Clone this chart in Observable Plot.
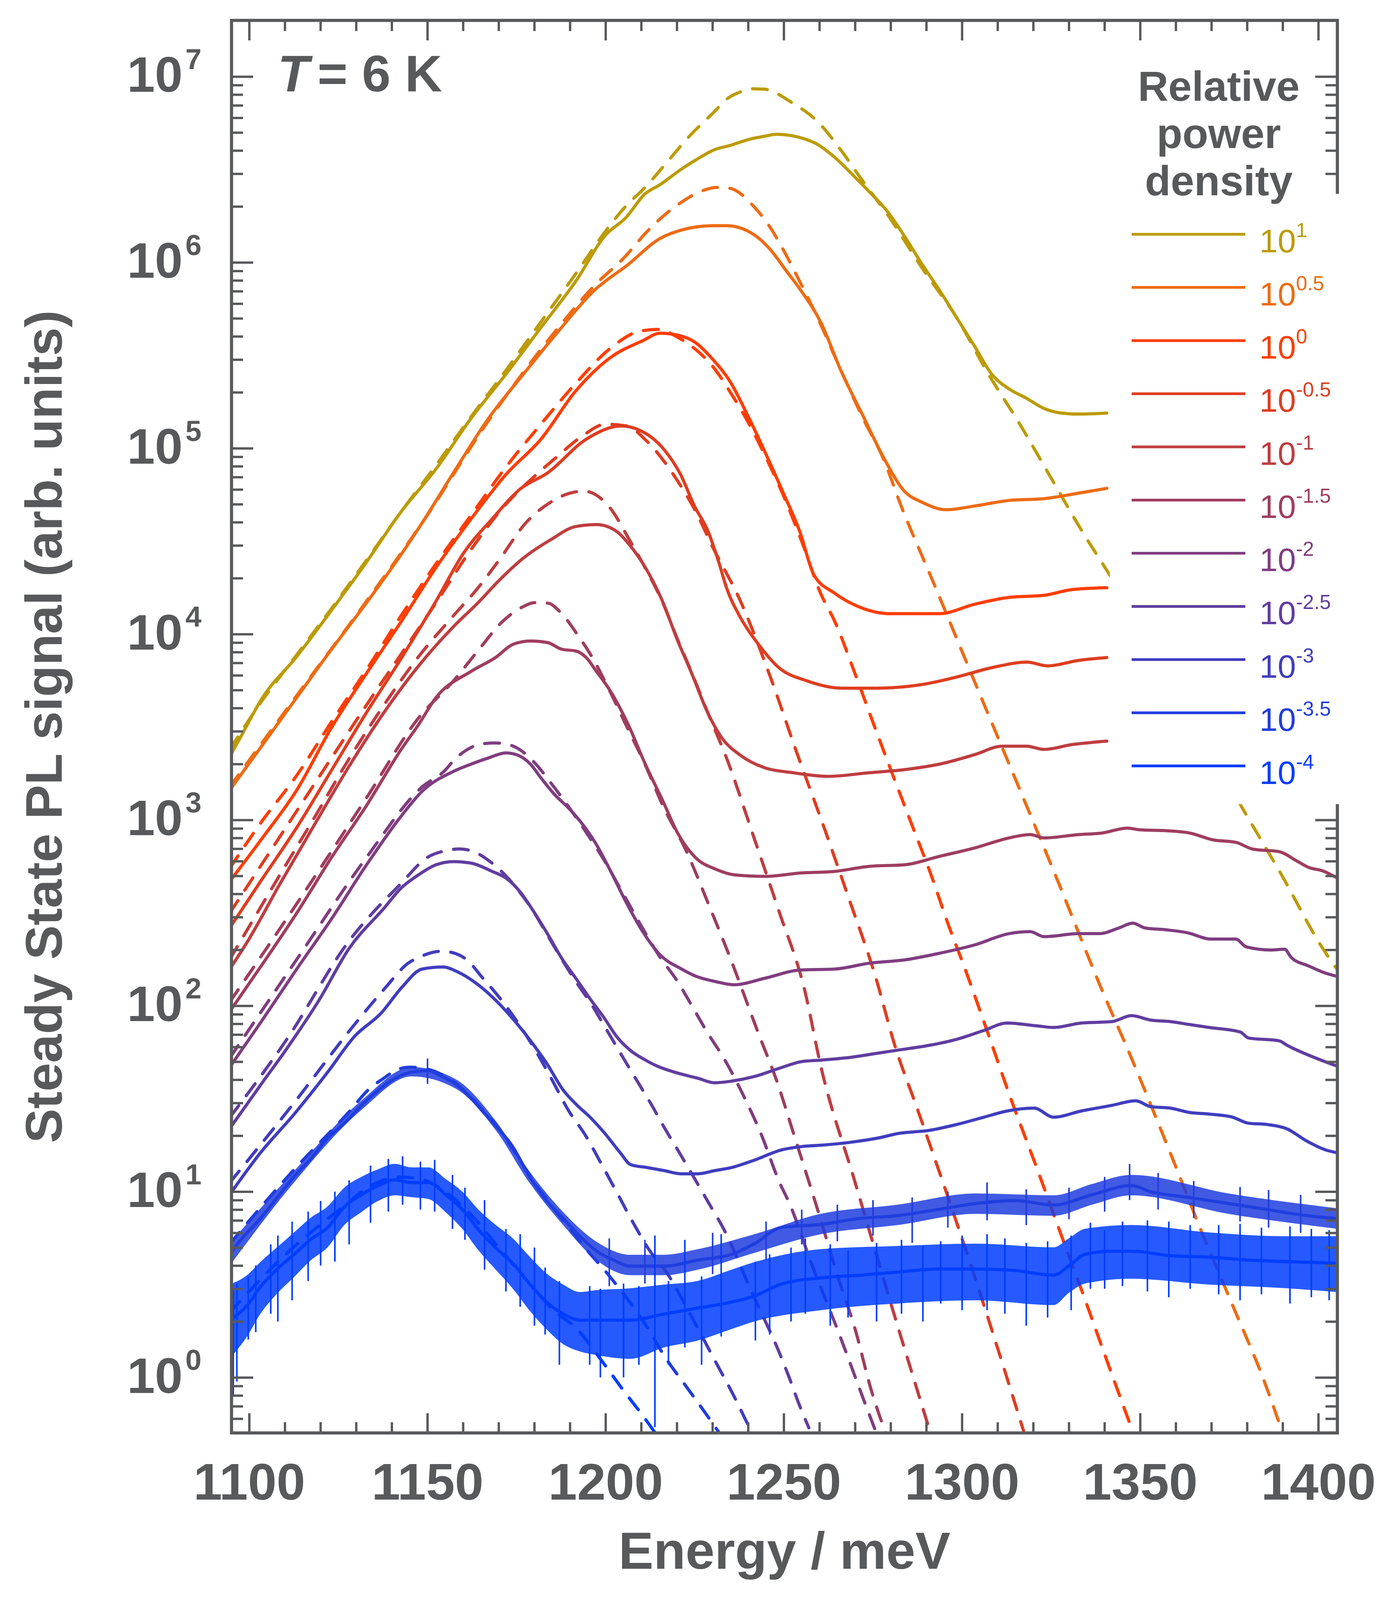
<!DOCTYPE html>
<html><head><meta charset="utf-8">
<script src="https://cdn.jsdelivr.net/npm/d3@7"></script>
<script src="https://cdn.jsdelivr.net/npm/@observablehq/plot@0.6"></script>
<style>
html,body{margin:0;padding:0;background:#fff;overflow:hidden;}
#chart{position:relative;width:3570px;}
#chart svg{display:block;}
</style></head><body><div id="chart"></div>
<script>
// ---------- legend categories ----------
const powerExp = ["1","0.5","0","-0.5","-1","-1.5","-2","-2.5","-3","-3.5","-4"];
const colors = ["#bc9b06","#ee6b14","#ff3d00","#df3d20","#bf3d40","#9f3d60","#803d80","#603da0","#403dbf","#203ddf","#003dff"];

// ---------- measured spectra [Energy meV, PL signal] ----------
const m1 = [[1094.5,2200],[1098,2900],[1103.5,4500],[1113.3,7590],[1123.1,13500],[1132.9,24500],[1142.6,45700],[1152.4,77600],[1162.2,145000],[1172,251000],[1181.8,447000],[1191.6,794000],[1200,1410000],[1205.6,1740000],[1211,2340000],[1215.3,2630000],[1221,3160000],[1225.1,3550000],[1230.8,4070000],[1234.9,4270000],[1240.5,4620000],[1244.7,4790000],[1248,4900000],[1251.5,4840000],[1255,4680000],[1259.4,4330000],[1264,3720000],[1269.2,2980000],[1274,2400000],[1279,1890000],[1283.9,1380000],[1288.8,977000],[1293.7,708000],[1298.6,501000],[1303.5,355000],[1308.3,251000],[1313.2,209000],[1318.1,186000],[1323,164000],[1327.9,155000],[1333,153000],[1340.6,155000]];
const m05 = [[1094.5,1450],[1103.5,2510],[1113.3,4570],[1123.1,8320],[1132.9,14800],[1142.6,26900],[1148.5,39800],[1157.3,74100],[1167.1,145000],[1176.9,251000],[1186.7,427000],[1196.5,700000],[1206.3,977000],[1215.3,1350000],[1222,1510000],[1230,1580000],[1234,1580000],[1239.8,1480000],[1243,1350000],[1246.6,1150000],[1250.5,912000],[1254.4,724000],[1260.3,479000],[1266.2,257000],[1272.1,151000],[1278,89100],[1283.8,58900],[1288.8,51300],[1295.6,46800],[1303.5,49000],[1313.2,52500],[1323,53700],[1332.8,57500],[1340.6,61000]];
const m0 = [[1094.5,468],[1103.5,794],[1113.3,1450],[1123.1,3160],[1132.9,6170],[1142.6,11700],[1152.4,22900],[1162.2,41700],[1172,72400],[1181.8,112000],[1191.6,204000],[1201.4,309000],[1210.4,380000],[1215.3,417000],[1220.2,407000],[1225.1,372000],[1230,302000],[1234.9,229000],[1239.8,151000],[1244.7,95500],[1249.6,58900],[1254.5,35500],[1258.4,20900],[1264.3,16600],[1272.1,13800],[1280,12900],[1293.6,12900],[1303.5,14500],[1313.2,15800],[1323,16200],[1330.9,17400],[1340.6,17800]];
const mm05 = [[1094.5,263],[1103.5,479],[1113.3,912],[1123.1,1860],[1132.9,3800],[1142.6,7410],[1152.4,15100],[1160.2,27500],[1168.1,41700],[1175.9,60300],[1183.8,74100],[1194.5,112000],[1204.3,132000],[1209.2,126000],[1216.1,100000],[1221,72400],[1224.9,49000],[1228.8,35500],[1231.7,24500],[1233.9,17800],[1237.8,12300],[1242.7,8910],[1248.6,6610],[1256.4,5620],[1266.2,5130],[1276,5130],[1288.8,5370],[1298.5,5890],[1308.3,6610],[1318.2,7080],[1324,6760],[1332.8,7240],[1340.6,7500]];
const mm1 = [[1094.5,158],[1099.6,224],[1108.4,447],[1118.1,933],[1128,1950],[1137.8,3800],[1147.5,6760],[1157.3,11000],[1164.2,14800],[1170.1,19500],[1176.9,25700],[1184.7,32400],[1191.6,38000],[1197.5,38900],[1203.3,35500],[1206.3,30900],[1211.1,22900],[1216.1,14800],[1220.1,9330],[1223.9,6310],[1228.8,3720],[1232.7,2750],[1237.7,2240],[1244.7,1910],[1252.5,1800],[1262.3,1720],[1274.1,1800],[1283.9,1870],[1293.6,2000],[1303.5,2250],[1311.3,2500],[1318.1,2500],[1323,2400],[1330.9,2550],[1340.6,2660]];
const mm15 = [[1094.5,93.3],[1103.5,166],[1113.3,316],[1123.1,631],[1132.9,1200],[1142.6,2400],[1147.5,3270],[1152.4,4570],[1162.2,6310],[1169.1,7500],[1174,8830],[1178.9,9200],[1183.7,9020],[1187.7,8300],[1191.6,8130],[1194.5,7500],[1197.4,6310],[1201.3,4950],[1206.3,3270],[1211.1,2000],[1216.1,1260],[1220.2,851],[1225.1,631],[1231,543],[1236,508],[1244.7,498],[1254.5,519],[1264.3,530],[1274.1,564],[1283.9,575],[1293.6,638],[1303.5,708],[1313.2,802],[1319.1,836],[1323,802],[1332.8,836],[1339.1,851],[1346.4,906],[1349.8,887],[1357.2,877],[1364,851],[1370.4,783],[1376.8,759],[1381.6,698],[1389,676],[1393.9,603],[1397.3,556],[1401.2,533],[1405.4,486]];
const mm2 = [[1094.5,46.8],[1103.5,83.2],[1113.3,158],[1123.1,295],[1132.9,575],[1142.6,1050],[1148.5,1430],[1157.3,1830],[1162.2,2000],[1167.1,2160],[1172,2300],[1175,2250],[1178.9,2000],[1181.8,1690],[1185.7,1370],[1189.6,1160],[1193.6,944],[1197.4,738],[1201.4,530],[1205.4,372],[1210.4,251],[1215.3,188],[1221.3,158],[1225.1,145],[1231,135],[1235.9,130],[1244.7,141],[1254.5,156],[1264.3,158],[1274.1,170],[1283.9,177],[1293.6,192],[1303.5,213],[1313.2,245],[1319.1,251],[1323,236],[1332.8,245],[1338.6,245],[1344,263],[1347.9,279],[1351.3,263],[1357.2,257],[1363.1,248],[1369.9,229],[1376.8,229],[1379.7,208],[1386.6,200],[1390.5,202],[1392.4,182],[1397.3,164],[1401.2,152],[1405.4,144]];
const mm25 = [[1094.5,21.9],[1103,37.2],[1110.5,58.9],[1119.5,107],[1128,204],[1137.8,336],[1142.6,431],[1147.5,508],[1152.4,575],[1157.3,598],[1162.2,587],[1168.1,530],[1172,488],[1175.9,413],[1179.8,322],[1183.8,242],[1187.7,180],[1191.6,141],[1195.5,110],[1199.4,87.1],[1203.3,67.6],[1207,57.5],[1211,51.3],[1214.5,47.4],[1219.2,44.1],[1225.9,40.8],[1230.6,38.6],[1235.3,39.4],[1241.7,41.7],[1249.3,46.6],[1254.8,50.1],[1260.3,51.1],[1269,53],[1276.6,55.8],[1282.1,57.9],[1290.8,61.4],[1298.4,66.1],[1306.1,73.8],[1312.6,80.9],[1321.3,78],[1325.7,76.6],[1333.4,80.9],[1342.1,82.4],[1347.5,88.7],[1353,83.9],[1358.4,82.4],[1363.9,79.4],[1369.3,76.6],[1378.1,72.4],[1380.3,67.3],[1389,64.9],[1391.2,61.4],[1396.6,55],[1405.3,47.4]];
const mm3 = [[1094.5,9.66],[1103.1,16.2],[1112.6,26.2],[1122,44.1],[1129.5,68.5],[1137.1,92],[1142.8,126],[1148.5,158],[1154.4,162],[1158.3,153],[1164.2,130],[1169.2,107],[1173.9,85.5],[1178.6,66.1],[1183.4,49.2],[1188.1,35.2],[1191.9,29.3],[1195.6,25.2],[1199.4,21],[1204.1,16.2],[1207,14],[1211.7,13.5],[1216.4,13],[1221.1,12.5],[1225.9,12.5],[1230.6,13],[1235.3,13.5],[1241.7,14.8],[1249.3,16.8],[1254.8,17.5],[1260.3,17.8],[1269,18.5],[1276.6,19.5],[1282.1,20.6],[1290.8,21.4],[1298.4,23],[1306.1,25.2],[1312.6,27.2],[1320.2,28.2],[1325.7,25.2],[1333.4,27.2],[1342.1,29.2],[1348.7,30.9],[1353,28.7],[1358.4,28.2],[1363.9,26.7],[1369.3,26.2],[1375.9,25.2],[1380.3,23.4],[1385.7,23],[1391.2,21.8],[1396.6,18.8],[1402,16.8],[1405.3,16.2]];
const mm35 = [[1094.5,4.61],[1098.4,5.75],[1103.1,7.18],[1107.8,9.31],[1112.6,12.1],[1117.3,15.1],[1122,19.5],[1126.7,23.4],[1131.5,29.2],[1136.2,35.2],[1140.9,40.8],[1145.6,44.1],[1150.3,44.9],[1153.2,42.5],[1157.9,38],[1161.7,32.7],[1165.4,27.2],[1169.2,22.6],[1173.9,17.5],[1178.6,12.1],[1183.4,8.97],[1188.1,7.18],[1192.8,5.75],[1197.5,4.79],[1202.2,4.29],[1207,3.98],[1216.4,3.98],[1225.9,4.29],[1235.3,4.61],[1241.7,5.25],[1249.3,6.43],[1260.3,6.67],[1271.2,7.18],[1282.1,7.45],[1293,8.02],[1303.9,8.65],[1314.8,8.97],[1325.7,8.49],[1336.6,9.66],[1347.5,10.8],[1353,10],[1363.9,9.31],[1374.8,8.65],[1385.7,8.02],[1396.6,7.45],[1405.3,7.18]];
const mm4 = [[1094.5,2.04],[1099.4,2.45],[1103.1,3.08],[1107.8,3.84],[1112.6,4.61],[1117.3,5.55],[1122,6.43],[1126.7,8.32],[1131.5,9.66],[1136.2,10.8],[1140.9,11.6],[1145.6,11.2],[1150.3,11.2],[1155.1,9.66],[1159.8,8.02],[1164.5,6.19],[1169.2,4.97],[1173.9,4.13],[1178.7,3.19],[1183.4,2.55],[1188.1,2.2],[1192.8,2.04],[1197.5,2.04],[1207,2.04],[1216.4,2.2],[1225.9,2.37],[1235.3,2.55],[1241.7,2.75],[1249.3,3.19],[1260.3,3.44],[1271.2,3.56],[1282.1,3.7],[1293,3.84],[1303.9,3.84],[1314.8,3.77],[1325.7,3.56],[1330,4.0],[1334.5,4.61],[1342.1,4.79],[1347.5,4.79],[1358.4,4.53],[1369.3,4.45],[1380.3,4.29],[1391.2,4.21],[1405.3,4.13]];

// noise envelopes of the two weakest spectra [Energy, low, high]
const band35 = [[1094.5,3.98,5.25],[1112.6,11.2,12.9],[1131.5,27.5,30.9],[1145.6,41.7,46.8],[1157.9,35.9,40.3],[1169.2,21.4,24.0],[1178.6,11.2,12.9],[1188.1,6.61,7.76],[1197.5,4.27,5.37],[1207,3.55,4.57],[1216.4,3.55,4.57],[1225.9,3.8,4.9],[1241.7,4.68,5.89],[1260.3,5.89,7.59],[1282.1,6.61,8.51],[1303.9,7.59,9.77],[1325.7,7.41,9.55],[1336.6,8.51,11.0],[1347.5,9.55,12.3],[1374.8,7.59,9.77],[1405.3,6.31,8.13]];
const band4 = [[1094.5,1.26,3.16],[1099.4,1.66,3.55],[1103.1,2.19,4.17],[1107.8,2.82,5.01],[1112.6,3.47,6.03],[1117.3,4.27,7.24],[1122,5.01,8.32],[1126.7,6.61,10.5],[1131.5,7.76,12],[1136.2,8.91,13.2],[1140.9,9.55,14.1],[1145.6,9.33,13.5],[1150.3,9.12,13.5],[1155.1,7.76,11.7],[1159.8,6.31,10],[1164.5,4.79,7.94],[1169.2,3.8,6.61],[1173.9,3.02,5.62],[1178.7,2.29,4.47],[1183.4,1.82,3.63],[1188.1,1.51,3.16],[1192.8,1.38,2.88],[1197.5,1.32,2.95],[1207,1.26,3.02],[1216.4,1.45,3.16],[1225.9,1.58,3.31],[1235.3,1.82,3.8],[1241.7,2,4.17],[1260.3,2.3,4.9],[1282.1,2.5,5.1],[1303.9,2.6,5.25],[1325.7,2.45,5.01],[1330,2.85,5.6],[1334.5,3.2,6.31],[1347.5,3.4,6.61],[1369.3,3.16,6.03],[1391.2,3.02,5.75],[1405.3,2.88,5.75]];
const spikes35 = [[1150,38,52],[1201,3.1,5.6],[1211,3.2,5.5],[1230,3.6,6.0],[1245,4.3,6.9],[1255,5.2,8.0],[1265,5.4,8.5],[1275,5.8,9.0],[1286,5.3,9.3],[1296,6.4,10.0],[1307,7.0,11.2],[1318,6.6,10.3],[1330,7.1,10.5],[1340,7.8,12.0],[1347,9.0,14.1],[1355,8.0,12.6],[1365,7.2,11.4],[1378,6.9,10.6],[1386,6.4,10.2],[1395,6.0,9.6]];
const spikes4 = [[1095.5,0.79,3.0],[1096.5,0.95,3.2],[1099.7,1.6,3.5],[1101.8,1.75,4.0],[1106,2.2,5.2],[1108,2.0,5.8],[1112,2.6,6.9],[1116.5,3.3,7.8],[1120,4.0,8.9],[1124,4.2,10.0],[1128,5.2,11.5],[1134,6.8,13.8],[1139,7.8,15.0],[1143,8.5,15.5],[1148,8.0,14.5],[1152,7.8,14.8],[1157,6.3,12.3],[1160.5,5.5,10.5],[1166,3.8,9.0],[1172,2.9,6.3],[1176,2.4,5.9],[1180,1.9,5.0],[1183,1.7,3.9],[1187,1.17,3.3],[1195.5,1.17,3.1],[1198.5,1.0,3.0],[1205,1.0,3.2],[1209.3,1.17,3.1],[1213.8,0.54,5.8],[1217.6,1.17,3.3],[1222.2,1.45,5.5],[1226.9,1.17,3.5],[1232.4,1.66,5.9],[1242,1.58,4.2],[1246,1.7,4.6],[1252,2.0,5.0],[1256,2.2,5.6],[1263,1.9,5.2],[1268,2.1,4.8],[1276,2.0,5.3],[1283,2.2,5.5],[1289,2.0,5.1],[1294,2.5,5.4],[1300,2.3,5.8],[1307,2.3,5.9],[1312,2.2,5.6],[1318,1.9,5.3],[1324,2.1,5.4],[1330.6,2.3,5.8],[1336,3.0,6.8],[1340,3.0,6.2],[1345,3.1,6.9],[1352,2.9,7.0],[1358,2.7,6.9],[1364,3.0,6.6],[1372,2.8,6.6],[1378,2.6,6.7],[1384,2.8,6.4],[1392,2.5,6.5],[1398,2.7,6.3],[1403,2.6,6.2]];

// ---------- model fits (dashed) ----------
const f1 = [[1094.5,2400],[1103.5,4370],[1113.3,7760],[1123.1,13800],[1132.9,25100],[1142.6,45700],[1152.4,81300],[1162.2,148000],[1172,263000],[1181.8,479000],[1191.6,871000],[1200,1480000],[1205,1950000],[1211.3,2570000],[1217.2,3470000],[1223.5,4790000],[1230.4,6460000],[1234,7590000],[1238,8320000],[1241.5,8610000],[1244.6,8570000],[1248,8130000],[1251.5,7410000],[1259.4,5750000],[1266.2,3980000],[1272.1,2750000],[1279,1820000],[1288.8,933000],[1298.6,501000],[1307.4,251000],[1316.2,135000],[1325,69200],[1333.8,35500],[1342,20000],[1360,5000],[1378.2,1200],[1389.5,513],[1401.2,204],[1406,150]];
const f05 = [[1094.5,1510],[1113.3,4680],[1132.9,15100],[1148.5,39800],[1167.1,141000],[1186.7,447000],[1196.5,741000],[1205.3,1070000],[1212.2,1510000],[1220.1,2040000],[1227.5,2450000],[1231,2540000],[1234.8,2510000],[1241.6,2000000],[1246.5,1510000],[1250.6,1100000],[1254.4,794000],[1260,479000],[1266,263000],[1272,148000],[1278,87100],[1282.9,49000],[1291.7,19500],[1303.4,5620],[1315.2,1620],[1326.9,468],[1338.7,129],[1347.5,52.5],[1358.4,16.2],[1367.1,6.17],[1375.9,2.45],[1384.6,0.977],[1390,0.5]];
const f0 = [[1094.5,550],[1103,955],[1113.3,1740],[1123.1,3390],[1132.9,6460],[1142.6,12600],[1152.4,24000],[1162.2,43700],[1172,79400],[1181.8,135000],[1191.6,224000],[1201.4,347000],[1209.5,427000],[1215,437000],[1220,398000],[1225.4,339000],[1230.5,269000],[1235,200000],[1240,138000],[1245,89100],[1250,55000],[1255,31600],[1260.3,16600],[1264.3,11700],[1270.1,6030],[1275.5,3160],[1280.4,1780],[1285.8,955],[1291.2,513],[1296.1,275],[1301,155],[1306.4,79.4],[1313.7,31.6],[1321.3,12.9],[1326.8,6.61],[1334.5,2.63],[1339.9,1.35],[1347.5,0.537]];
const fm05 = [[1094.5,316],[1113.3,1120],[1132.9,4170],[1152.4,14800],[1162,28200],[1172,50100],[1180,70800],[1186,89100],[1193,115000],[1200,135000],[1206,132000],[1211,112000],[1216,87100],[1220,67600],[1225,46800],[1230,29500],[1237.8,15100],[1246.2,5890],[1253.5,2340],[1260.9,955],[1268.2,380],[1275.5,148],[1281.4,58.9],[1287,29.5],[1302.8,3.85],[1317.3,0.513]];
const fm1 = [[1094.5,178],[1108.4,501],[1118.1,1020],[1128,2140],[1137.8,4170],[1147.5,7590],[1157.3,12600],[1164.2,17800],[1170.1,25100],[1177.6,39800],[1184.5,51300],[1190,57500],[1194,58900],[1198,55000],[1202,45700],[1206,33900],[1211,22900],[1216,14800],[1220,9550],[1224,6310],[1228.8,3720],[1233.9,2160],[1241.7,794],[1248.6,324],[1255.9,120],[1260.3,47.9],[1270,11.2],[1280,2.51],[1291,0.513]];
const fm15 = [[1094.5,105],[1113.3,355],[1132.9,1320],[1147.5,3550],[1157.3,5620],[1164.5,8320],[1171,11700],[1176.9,14100],[1180,14800],[1183.8,14700],[1187.2,13200],[1192,10000],[1196.4,7410],[1201,5010],[1206,3160],[1211,2000],[1216,1200],[1222.7,676],[1229,347],[1234.9,182],[1242.7,72.4],[1248.3,38],[1252.6,20.9],[1259.2,8.32],[1265.2,3.47],[1270,1.82],[1274.4,0.871],[1278.6,0.5]];
const fm2 = [[1094.5,52.5],[1113.3,178],[1132.9,631],[1148.5,1510],[1155,1860],[1157.3,2090],[1161.2,2400],[1165.2,2570],[1169,2600],[1172,2570],[1175,2450],[1180,2040],[1185,1550],[1190,1150],[1195,832],[1200,589],[1205,398],[1210,269],[1215,186],[1220.2,135],[1224.2,100],[1228.6,71.6],[1233.1,52.5],[1239.6,30.2],[1243.4,20.9],[1248.8,11.2],[1251.5,8.71],[1258,3.98],[1265.2,1.78],[1272.8,0.724],[1276,0.5]];
const fm25 = [[1094.5,25.1],[1110.5,66.1],[1128,224],[1142.6,457],[1150,631],[1155,684],[1159,700],[1163,676],[1168,589],[1172,501],[1176,407],[1180,316],[1184,234],[1188,174],[1192,132],[1196,102],[1200,75.9],[1204.3,55],[1208.7,39.8],[1212.8,29.5],[1216.6,21.9],[1220.7,16.2],[1229.2,8.51],[1233.1,6.31],[1241,2.88],[1248.8,1.35],[1251.5,1.0],[1254.2,0.724],[1257,0.537]];
const fm3 = [[1094.5,11.2],[1112.6,30.2],[1129.5,79.4],[1137.8,123],[1144.6,170],[1148.5,186],[1154,197],[1158,191],[1161.5,174],[1165,145],[1170,112],[1175,83.2],[1180,58.9],[1185,39.8],[1189.5,27.5],[1194.4,20],[1198.8,14.1],[1203.3,9.77],[1207.8,6.76],[1212.1,4.9],[1217.3,3.63],[1224,2.14],[1230.7,1.23],[1236,0.794],[1241.1,0.5]];
const fm35 = [[1094.5,5.25],[1112.6,13.2],[1127.5,26.3],[1134,36.3],[1137.6,40.7],[1141.8,45.7],[1145,46.8],[1150,45.7],[1155,41.7],[1160,35.5],[1165,28.2],[1170,21.9],[1175,15.8],[1180,11.2],[1185,8.32],[1190,6.31],[1195,4.79],[1200,3.72],[1205,2.82],[1211,1.95],[1217,1.26],[1222.3,0.912],[1227.2,0.676],[1232,0.5]];
const fm4 = [[1094.5,2.24],[1110,4.57],[1125,7.94],[1135,11],[1142,12],[1148,11.7],[1155,10],[1162,7.59],[1170,5.01],[1178,3.31],[1185,2.34],[1192,1.82],[1198.5,1.26],[1205.4,0.832],[1211,0.603],[1214,0.5]];

// ---------- axis ticks and labels ----------
const xTickVals = [1100,1150,1200,1250,1300,1350,1400];
const xTickLabels = ["1100","1150","1200","1250","1300","1350","1400"];
const xMinor = [1110,1120,1130,1140,1160,1170,1180,1190,1210,1220,1230,1240,1260,1270,1280,1290,1310,1320,1330,1340,1360,1370,1380,1390];
const yTickVals = [1,10,100,1000,1e4,1e5,1e6,1e7];
const yTickExp = ["0","1","2","3","4","5","6","7"];
const yMinor = [0.6,0.7,0.8,0.9,2,3,4,5,6,7,8,9,20,30,40,50,60,70,80,90,200,300,400,500,600,700,800,900,2e3,3e3,4e3,5e3,6e3,7e3,8e3,9e3,2e4,3e4,4e4,5e4,6e4,7e4,8e4,9e4,2e5,3e5,4e5,5e5,6e5,7e5,8e5,9e5,2e6,3e6,4e6,5e6,6e6,7e6,8e6,9e6];
const legendTitle = ["Relative","power","density"];

const meas = [m1,m05,m0,mm05,mm1,mm15,mm2,mm25,mm3,mm35,mm4];
const fits = [f1,f05,f0,fm05,fm1,fm15,fm2,fm25,fm3,fm35,fm4];

// ---------- layout (fit the 3570x4276 design into the visible viewport height) ----------
const W = 3570;
const vh = window.innerHeight;
const H = (vh >= 3000 && vh < 4276) ? vh : 4276;
const ky = H / 4276;
const mL = 592, mR = 148, mT = 54 * ky, mB = 447 * ky;
const pW = W - mL - mR, pH = H - mT - mB;
const gray = "#58595b";
const font = "'Liberation Sans', Arial, Helvetica, sans-serif";
const X = d => d[0], Y = d => d[1];

const marks = [];
meas.forEach((s, i) => {
  if (i === 9) {
    marks.push(Plot.areaY(band35, {x: X, y1: d => d[1], y2: d => d[2], fill: colors[i], fillOpacity: 0.85, curve: "monotone-x", clip: true}));
    marks.push(Plot.ruleX(spikes35, {x: X, y1: d => d[1], y2: d => d[2], stroke: colors[i], strokeWidth: 4, clip: true}));
  }
  if (i === 10) {
    marks.push(Plot.areaY(band4, {x: X, y1: d => d[1], y2: d => d[2], fill: colors[i], fillOpacity: 0.85, curve: "monotone-x", clip: true}));
    marks.push(Plot.ruleX(spikes4, {x: X, y1: d => d[1], y2: d => d[2], stroke: colors[i], strokeWidth: 4, clip: true}));
  }
  marks.push(Plot.line(s, {x: X, y: Y, stroke: colors[i], strokeWidth: 8, curve: "monotone-x", clip: true}));
  marks.push(Plot.line(fits[i], {x: X, y: Y, stroke: colors[i], strokeWidth: 8, strokeDasharray: "38,32", curve: "monotone-x", clip: true}));
});

const tickStyle = {stroke: gray, strokeWidth: 6};
const txt = {fontWeight: "bold", fill: gray, lineAnchor: "middle"};
marks.push(
  Plot.frame({stroke: gray, strokeWidth: 8}),
  Plot.tickX(xTickVals, {x: d => d, insetTop: pH - 52 * ky, ...tickStyle}),
  Plot.tickX(xMinor, {x: d => d, insetTop: pH - 28 * ky, ...tickStyle}),
  Plot.tickX(xTickVals, {x: d => d, insetBottom: pH - 54 * ky, ...tickStyle}),
  Plot.tickX(xMinor, {x: d => d, insetBottom: pH - 29 * ky, ...tickStyle}),
  Plot.tickY(yTickVals, {y: d => d, insetRight: pW - 56, ...tickStyle}),
  Plot.tickY(yMinor, {y: d => d, insetRight: pW - 30, ...tickStyle}),
  Plot.tickY(yTickVals, {y: d => d, insetLeft: pW - 56, ...tickStyle}),
  Plot.tickY(yMinor, {y: d => d, insetLeft: pW - 30, ...tickStyle}),
  // y tick labels 10^n
  Plot.text(yTickVals, {y: d => d, text: () => "10", frameAnchor: "left", textAnchor: "end", dx: -125, dy: -2, fontSize: 128, ...txt}),
  Plot.text(yTickVals, {y: d => d, text: (d, i) => yTickExp[i], frameAnchor: "left", textAnchor: "start", dx: -118, dy: -43, fontSize: 74, ...txt}),
  // x tick labels
  Plot.text(xTickVals, {x: d => d, text: (d, i) => xTickLabels[i], frameAnchor: "bottom", textAnchor: "middle", dy: 134 * ky, fontSize: 132, ...txt}),
  // axis titles
  Plot.text(["Energy / meV"], {frameAnchor: "bottom", textAnchor: "middle", dy: 318 * ky, fontSize: 134, ...txt}),
  Plot.text(["Steady State PL signal (arb. units)"], {frameAnchor: "left", textAnchor: "middle", rotate: -90, dx: -477, fontSize: 132, ...txt}),
  // temperature annotation
  Plot.text(["T"], {frameAnchor: "top-left", textAnchor: "start", dx: 118, dy: 146 * ky, fontSize: 132, fontStyle: "italic", ...txt}),
  Plot.text(["= 6 K"], {frameAnchor: "top-left", textAnchor: "start", dx: 220, dy: 146 * ky, fontSize: 132, ...txt})
);

const plot = Plot.plot({
  width: W, height: H,
  marginLeft: mL, marginRight: mR, marginTop: mT, marginBottom: mB,
  style: {fontFamily: font, background: "#fff", color: gray, overflow: "visible"},
  x: {domain: [1095, 1405.3], axis: null},
  y: {type: "log", domain: [0.504, 2.01e7], axis: null},
  marks
});

// ---------- legend overlay ----------
const svg = d3.select(plot);
const lg = svg.append("g").attr("font-family", font).attr("text-anchor", "start");
lg.append("rect").attr("x", 2840).attr("y", 518 * ky).attr("width", 610).attr("height", 1631 * ky).attr("fill", "#fff");
const titleY = [258, 379, 500];
legendTitle.forEach((t, i) => {
  lg.append("text").attr("x", 3119).attr("y", titleY[i]).attr("text-anchor", "middle")
    .attr("font-size", 108).attr("font-weight", "bold").attr("fill", gray).text(t);
});
powerExp.forEach((lab, i) => {
  const y = (626 + i * 142.1) * ky;
  lg.append("line").attr("x1", 2896).attr("x2", 3187).attr("y1", y).attr("y2", y)
    .attr("stroke", colors[i]).attr("stroke-width", 7);
  const tx = lg.append("text").attr("x", 3223).attr("y", y + 46).attr("text-anchor", "start")
    .attr("fill", colors[i]).attr("font-size", 84);
  tx.append("tspan").text("10");
  tx.append("tspan").attr("dy", -39).attr("font-size", 52).text(lab);
});

document.getElementById("chart").appendChild(plot);
</script>
</body></html>
